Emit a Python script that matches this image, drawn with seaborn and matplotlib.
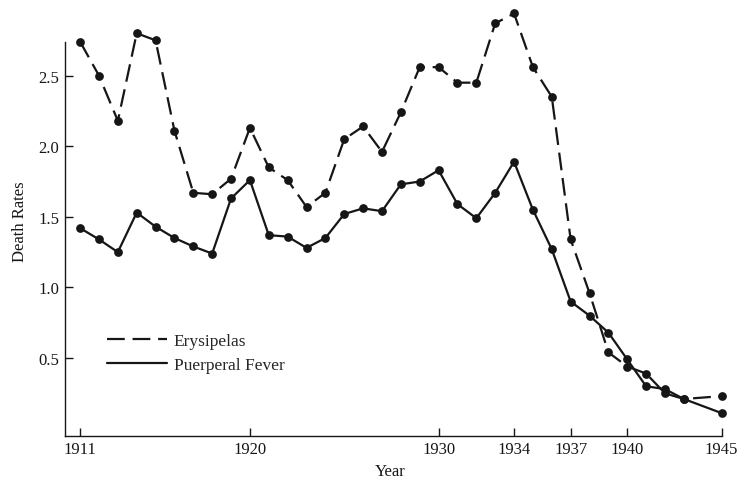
import pandas as pd
import matplotlib.pyplot as plt
from matplotlib.lines import Line2D
import seaborn as sns

sns.set_theme(style="white")
plt.rcParams["font.family"] = ["Liberation Serif", "DejaVu Serif"]

# -----------------------------
# DATA (1944 not plotted)
# -----------------------------
years = [1911, 1912, 1913, 1914, 1915, 1916, 1917, 1918, 1919, 1920,
         1921, 1922, 1923, 1924, 1925, 1926, 1927, 1928, 1929, 1930,
         1931, 1932, 1933, 1934, 1935, 1936, 1937, 1938, 1939, 1940,
         1941, 1942, 1943, 1945]

erysipelas = [2.74, 2.50, 2.18, 2.80, 2.75, 2.11, 1.67, 1.66, 1.77, 2.13,
              1.85, 1.76, 1.57, 1.67, 2.05, 2.14, 1.96, 2.24, 2.56, 2.56,
              2.45, 2.45, 2.87, 2.94, 2.56, 2.35, 1.34, 0.96, 0.54, 0.44,
              0.39, 0.25, 0.21, 0.23]

puerperal = [1.42, 1.34, 1.25, 1.53, 1.43, 1.35, 1.29, 1.24, 1.63, 1.76,
             1.37, 1.36, 1.28, 1.35, 1.52, 1.56, 1.54, 1.73, 1.75, 1.83,
             1.59, 1.49, 1.67, 1.89, 1.55, 1.27, 0.90, 0.80, 0.68, 0.49,
             0.30, 0.28, 0.21, 0.11]

series_names = ["Erysipelas", "Puerperal Fever"]
x_ticks = [1911, 1920, 1930, 1934, 1937, 1940, 1945]
y_ticks = [0.5, 1.0, 1.5, 2.0, 2.5]

df = pd.DataFrame({
    "Year": years * 2,
    "Rate": erysipelas + puerperal,
    "Disease": [series_names[0]] * len(years) + [series_names[1]] * len(years),
})

# -----------------------------
# FIGURE
# -----------------------------
ink = "#161616"
dash = (8, 3.5)

fig = plt.figure(figsize=(7.38, 4.81), dpi=100)
ax = fig.add_axes([0.0881, 0.0921, 0.905, 0.8954])

sns.lineplot(
    data=df, x="Year", y="Rate", style="Disease",
    dashes={series_names[0]: dash, series_names[1]: ""},
    markers={series_names[0]: "o", series_names[1]: "o"},
    color=ink, linewidth=1.6, markersize=6.3, markeredgewidth=0,
    legend=False, ax=ax, clip_on=False,
)

ax.set_xlim(1910.2, 1945.6)
ax.set_ylim(-0.05, 3.0)
ax.set_xticks(x_ticks)
ax.set_yticks(y_ticks)
ax.set_yticklabels([f"{v:.1f}" for v in y_ticks])

for side in ["top", "right"]:
    ax.spines[side].set_visible(False)
for side in ["left", "bottom"]:
    ax.spines[side].set_color(ink)
    ax.spines[side].set_linewidth(1.0)
ax.spines["left"].set_bounds(-0.05, 2.74)
ax.spines["bottom"].set_bounds(1910.2, 1945)

ax.tick_params(axis="both", direction="in", length=6, width=1.0,
               colors=ink, labelsize=12, pad=4)
ax.tick_params(axis="y", left=True)
ax.tick_params(axis="x", bottom=True)

ax.set_xlabel("Year", fontsize=12, color=ink)
ax.set_ylabel("Death Rates", fontsize=12, color=ink)
ax.xaxis.set_label_coords(0.487, -0.064)
ax.yaxis.set_label_coords(-0.055, 0.5)

handles = [
    Line2D([], [], color=ink, linewidth=1.6, dashes=dash),
    Line2D([], [], color=ink, linewidth=1.6),
]
ax.legend(handles, series_names, loc="upper left",
          bbox_to_anchor=(0.063, 0.238), frameon=False, fontsize=12.5,
          handlelength=3.45, handletextpad=0.4, labelspacing=0.45,
          borderpad=0, borderaxespad=0)

plt.savefig("out.png", dpi=100)
plt.close()
